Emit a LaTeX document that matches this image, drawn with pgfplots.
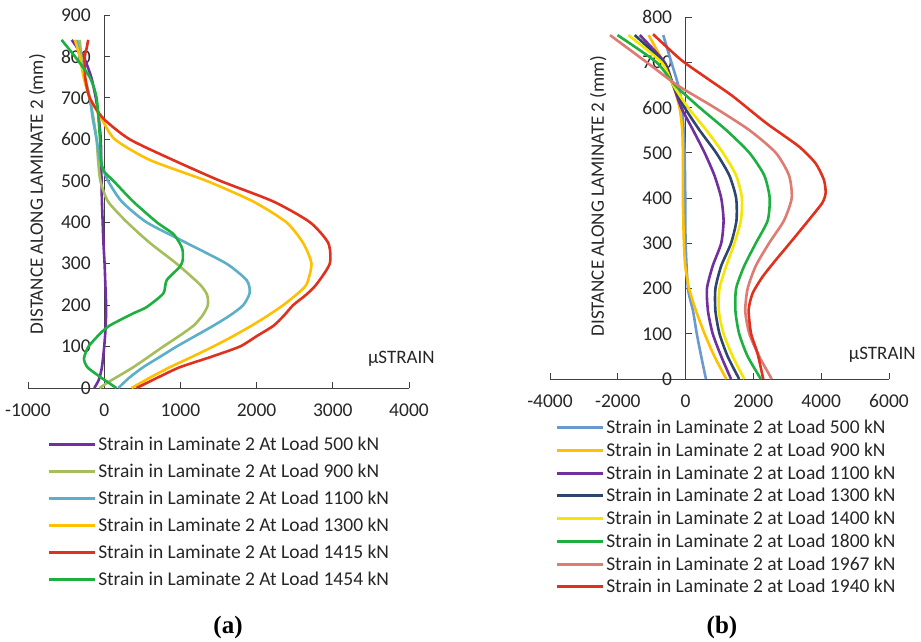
\documentclass[border=0pt]{standalone}
\usepackage{pgfplots}
\pgfplotsset{compat=1.18}
\usepackage{fontspec}
\setmainfont{Carlito}
\newfontfamily\tnr{Liberation Serif}
\definecolor{cPurple}{HTML}{7030A0}
\definecolor{cOlive}{HTML}{A5BE5C}
\definecolor{cLBlue}{HTML}{5BB0C8}
\definecolor{cGold}{HTML}{FFC000}
\definecolor{cRed}{HTML}{E0301E}
\definecolor{cGreen}{HTML}{1DB040}
\definecolor{cSky}{HTML}{6A98D0}
\definecolor{cNavy}{HTML}{2E4570}
\definecolor{cYellow}{HTML}{F5E600}
\definecolor{cSalmon}{HTML}{DE7B72}
\pgfplotsset{
 mystyle/.style={
  scale only axis,
  axis x line=bottom, axis y line=middle,
  axis line style={-, black!75, line width=0.9pt},
  tick style={black!75, line width=0.9pt},
  major tick length=6pt,
  tick align=inside,
  hide obscured x ticks=false, hide obscured y ticks=false,
  /pgf/number format/assume math mode=true,
  /pgf/number format/1000 sep={},
  ticklabel style={font=\fontsize{19.5}{22}\selectfont, text=black!85},
  xticklabel style={yshift=-12pt},
  yticklabel style={xshift=-10pt},
  label style={font=\fontsize{19}{22}\selectfont, text=black!85},
  legend cell align=left,
  legend image code/.code={\draw[##1, line width=3pt] (0pt,0pt) -- (46pt,0pt);},
  every axis plot/.append style={line width=2.6pt, no marks},
 }
}
\begin{document}
\begin{tikzpicture}
\path[use as bounding box] (0pt,0pt) rectangle (921pt,641pt);
% ---------- (a) ----------
\begin{axis}[mystyle,
  at={(28pt,253pt)}, anchor=south west,
  width=381pt, height=373pt,
  xmin=-1000, xmax=4000, ymin=0, ymax=900,
  xtick={-1000,0,1000,2000,3000,4000},
  ytick={0,100,...,900},
  xlabel={µSTRAIN},
  xlabel style={at={(axis description cs:0.98,0.078)}, anchor=center},
  ylabel={DISTANCE ALONG LAMINATE 2 (mm)},
  ylabel style={at={(axis description cs:0.024,0.52)}, anchor=center, rotate=90},
  legend style={at={(axis description cs:0.05,-0.1255)}, anchor=north west, draw=none, fill=none,
    font=\fontsize{19.5}{22}\selectfont, text=black!85, row sep=8pt, inner sep=0pt, nodes={inner sep=2pt}},
]
\addplot[cPurple, smooth, tension=0.4] coordinates {(-130,0) (-70,20) (-30,50) (0,100) (20,150) (25,200) (15,250) (5,300) (-10,350) (-20,400) (-30,450) (-35,500) (-40,550) (-45,600) (-70,650) (-110,700) (-170,750) (-270,800) (-350,820) (-425,840)};
\addlegendentry{Strain in Laminate 2 At Load 500 kN}
\addplot[cOlive, smooth, tension=0.4] coordinates {(-60,0) (60,15) (200,30) (380,50) (580,75) (775,100) (980,125) (1170,150) (1290,175) (1360,200) (1350,225) (1255,250) (950,300) (600,350) (300,400) (50,450) (-50,500) (-80,550) (-100,600) (-140,650) (-190,700) (-250,750) (-300,800) (-320,840)};
\addlegendentry{Strain in Laminate 2 At Load 900 kN}
\addplot[cLBlue, smooth, tension=0.4] coordinates {(185,0) (330,25) (510,50) (730,75) (950,100) (1190,125) (1430,150) (1650,175) (1825,200) (1910,230) (1870,260) (1605,300) (1080,350) (555,400) (230,450) (50,500) (-55,550) (-100,600) (-150,650) (-190,700) (-260,750) (-320,800) (-355,840)};
\addlegendentry{Strain in Laminate 2 At Load 1100 kN}
\addplot[cGold, smooth, tension=0.4] coordinates {(360,0) (600,25) (860,50) (1150,75) (1430,100) (1690,125) (1930,150) (2150,175) (2350,200) (2520,225) (2655,250) (2720,300) (2610,350) (2390,400) (1955,450) (1340,500) (600,550) (140,600) (-35,650) (-190,700) (-270,750) (-320,800) (-385,840)};
\addlegendentry{Strain in Laminate 2 At Load 1300 kN}
\addplot[cRed, smooth, tension=0.4] coordinates {(425,0) (700,25) (990,50) (1400,75) (1780,100) (2000,125) (2220,150) (2360,175) (2480,200) (2650,225) (2785,250) (2960,300) (2940,350) (2700,400) (2220,450) (1520,500) (905,550) (335,600) (-10,650) (-190,700) (-250,750) (-255,800) (-230,820) (-210,840)};
\addlegendentry{Strain in Laminate 2 At Load 1415 kN}
\addplot[cGreen, smooth, tension=0.4] coordinates {(160,0) (-55,27) (-220,50) (-265,71) (-210,99) (-55,131) (75,151) (380,180) (555,195) (775,228) (820,260) (990,292) (1030,308) (1030,332) (995,348) (905,372) (690,400) (380,450) (120,500) (10,520) (-35,540) (-55,600) (-100,700) (-190,750) (-385,800) (-560,840)};
\addlegendentry{Strain in Laminate 2 At Load 1454 kN}
\end{axis}
% ---------- (b) ----------
\begin{axis}[mystyle,
  at={(550pt,262pt)}, anchor=south west,
  width=339pt, height=362pt,
  xmin=-4000, xmax=6000, ymin=0, ymax=800,
  xtick={-4000,-2000,0,2000,4000,6000},
  ytick={0,100,...,800},
  xlabel={µSTRAIN},
  xlabel style={at={(axis description cs:0.98,0.066)}, anchor=center},
  ylabel={DISTANCE ALONG LAMINATE 2 (mm)},
  ylabel style={at={(axis description cs:0.142,0.505)}, anchor=center, rotate=90},
  legend style={at={(axis description cs:0.015,-0.1075)}, anchor=north west, draw=none, fill=none,
    font=\fontsize{19.5}{22}\selectfont, text=black!85, row sep=3.7pt, inner sep=0pt, nodes={inner sep=2pt}},
]
\addplot[cSky, smooth, tension=0.4] coordinates {(-660,760) (-420,700) (-220,650) (-100,600) (-30,500) (-10,400) (0,300) (70,200) (220,150) (330,100) (460,50) (600,0)};
\addlegendentry{Strain in Laminate 2 at Load 500 kN}
\addplot[cGold, smooth, tension=0.4] coordinates {(-1090,760) (-660,700) (-370,650) (-180,600) (-100,550) (-80,500) (-80,400) (-50,300) (-10,250) (100,200) (310,150) (560,100) (850,50) (1200,0)};
\addlegendentry{Strain in Laminate 2 at Load 900 kN}
\addplot[cPurple, smooth, tension=0.4] coordinates {(-1350,760) (-620,700) (-370,650) (-130,600) (220,550) (560,500) (850,450) (1050,400) (1120,350) (1050,300) (800,250) (630,200) (660,150) (800,100) (1050,50) (1340,0)};
\addlegendentry{Strain in Laminate 2 at Load 1100 kN}
\addplot[cNavy, smooth, tension=0.4] coordinates {(-1500,760) (-660,700) (-370,650) (-30,600) (410,550) (900,500) (1290,450) (1490,400) (1500,350) (1340,300) (1050,250) (880,200) (880,150) (1000,100) (1240,50) (1580,0)};
\addlegendentry{Strain in Laminate 2 at Load 1300 kN}
\addplot[cYellow, smooth, tension=0.4] coordinates {(-1690,760) (-710,700) (-370,650) (70,600) (610,550) (1100,500) (1490,450) (1660,400) (1630,350) (1440,300) (1200,250) (1000,200) (980,150) (1120,100) (1390,50) (1730,0)};
\addlegendentry{Strain in Laminate 2 at Load 1400 kN}
\addplot[cGreen, smooth, tension=0.4] coordinates {(-2010,760) (-860,700) (-320,650) (410,600) (1200,550) (1880,500) (2320,450) (2480,400) (2420,350) (2070,300) (1730,250) (1490,200) (1470,150) (1580,100) (1830,50) (2220,0)};
\addlegendentry{Strain in Laminate 2 at Load 1800 kN}
\addplot[cSalmon, smooth, tension=0.4] coordinates {(-2230,760) (-1150,700) (-260,650) (850,600) (1880,550) (2660,500) (3050,450) (3130,400) (2900,350) (2460,300) (2070,250) (1830,200) (1760,150) (1880,100) (2170,50) (2540,0)};
\addlegendentry{Strain in Laminate 2 at Load 1967 kN}
\addplot[cRed, smooth, tension=0.4] coordinates {(-960,762) (-130,705) (700,661) (1390,625) (2370,566) (3340,514) (3830,477) (4080,440) (4130,411) (4030,389) (3640,352) (3150,307) (2660,263) (2270,226) (1980,190) (1860,153) (1930,101) (2120,57) (2290,0)};
\addlegendentry{Strain in Laminate 2 at Load 1940 kN}
\end{axis}
\node[font=\tnr\bfseries\fontsize{25}{28}\selectfont] at (228pt,14pt) {(a)};
\node[font=\tnr\bfseries\fontsize{25}{28}\selectfont] at (722pt,14pt) {(b)};
\end{tikzpicture}
\end{document}
